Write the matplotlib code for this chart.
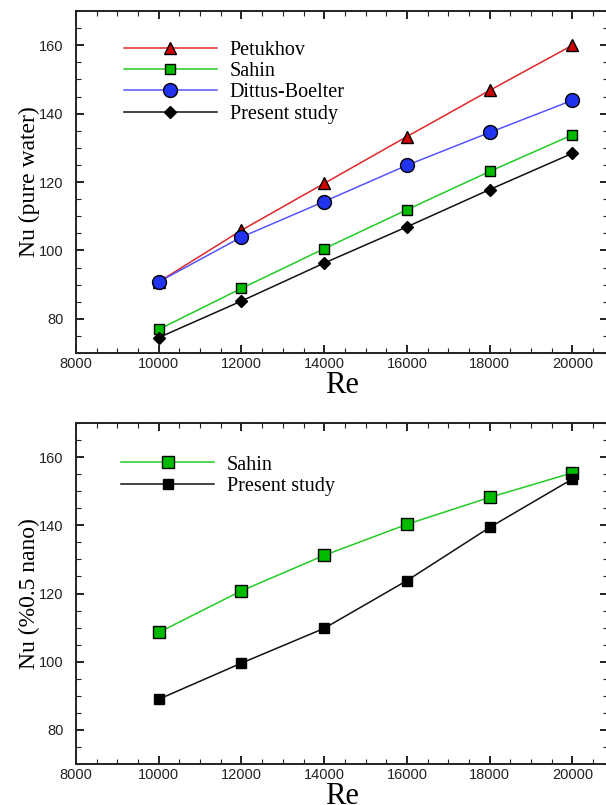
# -*- coding: UTF-8 -*-
import matplotlib
matplotlib.use("Agg")
import matplotlib.pyplot as plt
from matplotlib.ticker import MultipleLocator

re_vals = [10000, 12000, 14000, 16000, 18000, 20000]

# pure water
petukhov = [90.8, 105.9, 119.6, 133.3, 146.8, 160.0]
sahin_w = [76.9, 88.9, 100.5, 111.9, 123.1, 133.8]
dittus = [90.8, 103.9, 114.3, 124.9, 134.5, 143.9]
present_w = [74.5, 85.2, 96.3, 106.9, 117.8, 128.4]

# 0.5% nano
sahin_n = [108.6, 120.8, 131.2, 140.3, 148.2, 155.4]
present_n = [89.0, 99.6, 109.8, 123.8, 139.4, 153.6]

serif = ["Liberation Serif", "DejaVu Serif"]
sans = ["Liberation Sans", "DejaVu Sans"]


def style_axes(ax, ylabel):
    ax.set_xlim(8000, 20860)
    ax.set_ylim(70, 170)
    ax.xaxis.set_major_locator(MultipleLocator(2000))
    ax.xaxis.set_minor_locator(MultipleLocator(500))
    ax.yaxis.set_major_locator(MultipleLocator(20))
    ax.yaxis.set_minor_locator(MultipleLocator(5))
    ax.tick_params(which="both", direction="in", top=True, right=True, color="#222222")
    ax.tick_params(which="major", length=6, width=1.4)
    ax.tick_params(which="minor", length=3.5, width=0.8)
    ax.tick_params(axis="x", pad=3)
    ax.tick_params(axis="y", pad=9)
    for lab in ax.get_xticklabels() + ax.get_yticklabels():
        lab.set_family(sans)
        lab.set_fontsize(10.5)
        lab.set_color("#222222")
    for sp in ax.spines.values():
        sp.set_linewidth(1.4)
        sp.set_color("#222222")
    ax.set_xlabel("Re", family=serif, fontsize=22)
    ax.set_ylabel(ylabel, family=serif, fontsize=17)
    ax.xaxis.set_label_coords(0.5, -0.052)
    ax.yaxis.set_label_coords(-0.068, 0.5)


fig = plt.figure(figsize=(6.06, 8.05), dpi=100)
ax1 = fig.add_axes([0.1254, 0.5615, 0.878, 0.4248])
ax2 = fig.add_axes([0.1254, 0.0509, 0.878, 0.4236])

ax1.plot(re_vals, petukhov, color="#e02828", lw=1.1, marker="^", ms=8.5,
         mfc="#cc0000", mec="black", mew=1.0, label="Petukhov")
ax1.plot(re_vals, sahin_w, color="#22cc22", lw=1.1, marker="s", ms=6.5,
         mfc="#00bb00", mec="black", mew=1.0, label="Sahin")
ax1.plot(re_vals, dittus, color="#5555ff", lw=1.1, marker="o", ms=10,
         mfc="#2233ee", mec="black", mew=1.0, label="Dittus-Boelter")
ax1.plot(re_vals, present_w, color="#111111", lw=1.1, marker="D", ms=6.5,
         mfc="black", mec="black", mew=1.0, label="Present study")
style_axes(ax1, "Nu (pure water)")
ax1.legend(loc="upper left", bbox_to_anchor=(0.09, 0.912), frameon=False,
           prop={"family": serif, "size": 14.5}, handlelength=4.6,
           handletextpad=0.65, labelspacing=0.1, borderpad=0, borderaxespad=0)

ax2.plot(re_vals, sahin_n, color="#22cc22", lw=1.1, marker="s", ms=8,
         mfc="#00bb00", mec="black", mew=1.0, label="Sahin")
ax2.plot(re_vals, present_n, color="#111111", lw=1.1, marker="s", ms=7,
         mfc="black", mec="black", mew=1.0, label="Present study")
style_axes(ax2, "Nu (%0.5 nano)")
ax2.legend(loc="upper left", bbox_to_anchor=(0.085, 0.905), frameon=False,
           prop={"family": serif, "size": 14.5}, handlelength=4.6,
           handletextpad=0.65, labelspacing=0.1, borderpad=0, borderaxespad=0)

fig.savefig("out.png", dpi=100)
